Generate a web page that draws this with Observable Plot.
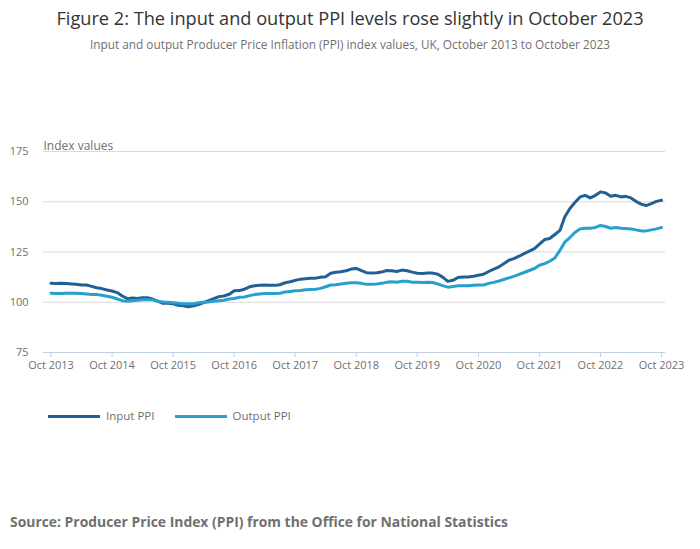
<!DOCTYPE html>
<html>
<head>
<meta charset="utf-8">
<script src="https://cdn.jsdelivr.net/npm/d3@7"></script>
<script src="https://cdn.jsdelivr.net/npm/@observablehq/plot@0.6"></script>
<style>
  body { margin:0; background:#fff; font-family:"Open Sans", sans-serif; }
  #wrap { position:relative; width:700px; height:549px; overflow:hidden; }
  .abs { position:absolute; }
  #title { top:5px; left:0; width:700px; text-align:center; font-size:18.2px; line-height:26px; color:#333; }
  #subtitle { top:35px; left:0; width:700px; text-align:center; font-size:11.8px; line-height:18px; color:#707070; }
  #chart { top:130px; left:0; }
  #legend { top:407px; left:48px; font-size:11.5px; line-height:18px; color:#707070; display:flex; align-items:center; }
  .sw { display:inline-block; width:52px; height:3px; margin-right:6px; }
  .item { display:flex; align-items:center; margin-right:20px; }
  #source { top:512px; left:10px; font-size:13.9px; font-weight:bold; line-height:20px; color:#707070; }
</style>
</head>
<body>
<div id="wrap">
  <div id="title" class="abs">Figure 2: The input and output PPI levels rose slightly in October 2023</div>
  <div id="subtitle" class="abs">Input and output Producer Price Inflation (PPI) index values, UK, October 2013 to October 2023</div>
  <div id="chart" class="abs"></div>
  <div id="legend" class="abs"></div>
  <div id="source" class="abs">Source: Producer Price Index (PPI) from the Office for National Statistics</div>
</div>
<script>
// Monthly series, October 2013 to October 2023
const startYear = 2013, startMonth = 9; // October (0-based)
const inputPPI = [
  109.4, 109.3, 109.4,
  109.3, 109.1, 108.9, 108.6, 108.6, 107.9, 107.2, 106.8, 106.1, 105.6, 104.8, 103.1,
  101.8, 102.1, 101.9, 102.3, 102.3, 101.6, 100.6, 99.5, 99.5, 99.2, 98.5, 98.2,
  97.8, 98.2, 98.8, 99.8, 100.8, 101.8, 102.8, 103.1, 104.0, 105.7, 105.8, 106.5,
  107.7, 108.2, 108.4, 108.6, 108.4, 108.4, 108.7, 109.7, 110.2, 110.9, 111.5, 111.7,
  111.9, 112.0, 112.4, 112.7, 114.4, 114.9, 115.2, 115.7, 116.5, 116.8, 115.7, 114.7,
  114.5, 114.7, 115.0, 115.8, 115.7, 115.3, 116.0, 115.7, 115.0, 114.4, 114.3, 114.5,
  114.5, 113.9, 112.5, 110.4, 110.9, 112.3, 112.6, 112.6, 112.9, 113.4, 113.9, 115.3,
  116.5, 117.6, 119.2, 120.9, 121.7, 122.9, 124.2, 125.4, 126.7, 128.9, 131.2, 131.7,
  133.7, 135.8, 142.4, 146.6, 149.6, 152.4, 153.2, 151.9, 153.2, 154.9, 154.4, 152.7,
  153.2, 152.4, 152.7, 151.9, 150.2, 148.8, 148.1, 149.1, 150.2, 150.7
];
const outputPPI = [
  104.5, 104.3, 104.3,
  104.5, 104.5, 104.5, 104.3, 104.1, 103.9, 103.8, 103.5, 103.0, 102.5, 101.6, 100.8,
  100.5, 100.8, 101.0, 101.2, 101.3, 101.2, 100.5, 100.1, 100.0, 99.8, 99.5, 99.3,
  99.3, 99.3, 99.7, 100.0, 100.1, 100.5, 100.8, 101.0, 101.6, 101.9, 102.5, 102.6,
  103.3, 103.8, 104.1, 104.3, 104.3, 104.3, 104.5, 105.1, 105.4, 105.7, 105.9, 106.2,
  106.4, 106.5, 106.9, 107.7, 108.6, 108.7, 109.1, 109.4, 109.7, 109.7, 109.4, 108.9,
  108.9, 109.1, 109.4, 109.9, 110.2, 110.0, 110.4, 110.4, 110.0, 109.9, 109.8, 109.9,
  109.8, 109.1, 108.3, 107.5, 107.8, 108.2, 108.2, 108.2, 108.5, 108.6, 108.6, 109.4,
  109.9, 110.6, 111.3, 112.1, 112.9, 113.9, 114.8, 115.8, 116.8, 118.4, 119.2, 120.4,
  122.0, 125.9, 129.9, 132.2, 134.7, 136.5, 136.8, 136.8, 137.2, 138.2, 137.7, 136.8,
  137.2, 136.8, 136.7, 136.5, 136.0, 135.5, 135.5, 136.0, 136.5, 137.2
];
const seriesNames = ["Input PPI", "Output PPI"];
const seriesColors = ["#206095", "#27a0cc"];
const yTicks = [75, 100, 125, 150, 175];
const xTickYears = [2013, 2014, 2015, 2016, 2017, 2018, 2019, 2020, 2021, 2022, 2023];
const xTickLabels = xTickYears.map(y => "Oct " + y);

const dateAt = i => new Date(Date.UTC(startYear, startMonth + i, 1));
const rows = [];
inputPPI.forEach((v, i) => rows.push({date: dateAt(i), value: v, series: seriesNames[0]}));
outputPPI.forEach((v, i) => rows.push({date: dateAt(i), value: v, series: seriesNames[1]}));
const xTicks = xTickYears.map(y => new Date(Date.UTC(y, 9, 1)));

const chart = Plot.plot({
  width: 700,
  height: 252,
  marginTop: 21,
  marginBottom: 30,
  marginLeft: 43,
  marginRight: 35,
  style: {fontFamily: "'Open Sans', sans-serif", fontSize: "11px", color: "#707070", background: "transparent"},
  x: {type: "utc", domain: [xTicks[0], xTicks[xTicks.length - 1]], range: [50.5, 661]},
  y: {domain: [75, 175], range: [222, 21]},
  color: {domain: seriesNames, range: seriesColors},
  marks: [
    Plot.ruleY(yTicks.filter(t => t > 75), {stroke: "#d9d9d9", strokeWidth: 1}),
    Plot.axisY(yTicks, {tickSize: 0, tickPadding: 15, label: null, fill: "#707070", fontSize: 11}),
    Plot.ruleY([75], {stroke: "#bed0e4", strokeWidth: 1}),
    Plot.axisX(xTicks, {tickSize: 5, stroke: "#bed0e4", tickPadding: 4, label: null,
      tickFormat: (d, i) => xTickLabels[i], fill: "#707070", fontSize: 11}),
    Plot.line(rows, {x: "date", y: "value", z: "series", stroke: "series", strokeWidth: 3}),
    Plot.text(["Index values"], {frameAnchor: "top-left", dy: -10, textAnchor: "start", fill: "#707070", fontSize: 12})
  ]
});
document.getElementById("chart").appendChild(chart);

const legend = document.getElementById("legend");
seriesNames.forEach((n, i) => {
  const it = document.createElement("div");
  it.className = "item";
  const sw = document.createElement("span");
  sw.className = "sw";
  sw.style.background = seriesColors[i];
  it.appendChild(sw);
  it.appendChild(document.createTextNode(n));
  legend.appendChild(it);
});
</script>
</body>
</html>
